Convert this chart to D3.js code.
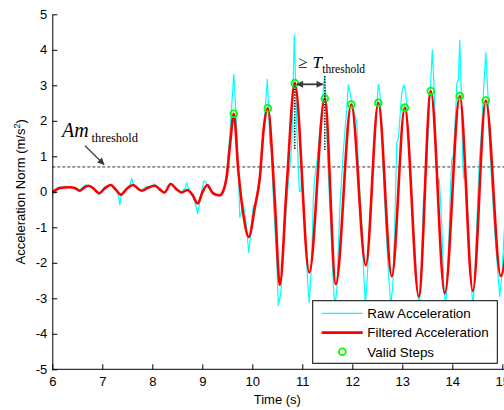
<!DOCTYPE html>
<html>
<head>
<meta charset="utf-8">
<script src="https://cdn.jsdelivr.net/npm/d3@7"></script>
<style>
  html, body { margin: 0; padding: 0; background: #fff; overflow: hidden; }
  svg { display: block; font-family: "Liberation Sans", Arial, Helvetica, sans-serif; }
</style>
</head>
<body>
<svg id="chart" width="504" height="410"></svg>
<script>
// ---- data -------------------------------------------------------------
const xTicks = [6, 7, 8, 9, 10, 11, 12, 13, 14, 15];
const yTicks = [-5, -4, -3, -2, -1, 0, 1, 2, 3, 4, 5];
const amThreshold = 0.7;

const seriesNames = ["Raw Acceleration", "Filtered Acceleration", "Valid Steps"];

// raw accelerometer norm, [time s, m/s^2]
const rawAccel = [
  [6.00,-0.16],[6.03,0.05],[6.06,-0.05],[6.10,0.10],[6.15,0.14],[6.20,0.08],[6.25,0.16],
  [6.30,0.12],[6.36,0.15],[6.42,0.10],[6.48,0.06],[6.52,0.02],[6.57,0.08],[6.62,0.14],
  [6.67,0.20],[6.72,0.14],[6.76,0.18],[6.82,0.10],[6.88,0.02],[6.93,-0.08],[6.98,0.02],
  [7.04,0.12],[7.10,0.16],[7.16,0.22],[7.22,0.10],[7.28,0.04],[7.32,-0.10],[7.35,-0.36],
  [7.38,-0.10],[7.43,0.02],[7.50,0.10],[7.55,0.20],[7.59,0.38],[7.63,0.14],[7.68,0.16],
  [7.73,0.04],[7.78,0.02],[7.83,0.10],[7.88,0.14],[7.93,0.08],[7.98,0.16],[8.04,0.22],
  [8.09,0.14],[8.14,0.04],[8.20,0.00],[8.25,-0.04],[8.30,0.10],[8.35,0.25],[8.40,0.18],
  [8.46,0.06],[8.52,0.02],[8.57,-0.03],[8.62,0.05],[8.66,0.12],[8.69,0.26],[8.73,0.05],
  [8.78,-0.06],[8.83,-0.18],[8.87,-0.40],[8.91,-0.61],[8.95,-0.30],[8.99,0.05],[9.03,0.31],
  [9.07,0.28],[9.12,0.10],[9.17,0.05],[9.22,-0.05],[9.27,-0.12],[9.31,-0.05],[9.35,-0.10],
  [9.40,0.00],[9.45,0.15],[9.49,0.60],[9.55,1.60],[9.59,2.47],[9.63,3.31],[9.67,2.28],
  [9.72,0.68],[9.75,-0.72],[9.78,-0.60],[9.82,-0.35],[9.87,-0.82],[9.93,-1.71],[9.97,-1.17],
  [10.02,-0.39],[10.07,-0.35],[10.11,-0.10],[10.15,0.24],[10.23,1.84],[10.30,3.17],
  [10.33,2.28],[10.35,1.35],[10.38,1.25],[10.43,-0.52],[10.49,-1.93],[10.52,-3.20],
  [10.57,-2.87],[10.62,-1.55],[10.69,-0.25],[10.79,1.35],[10.84,4.42],[10.89,1.80],
  [10.94,0.03],[10.97,0.00],[10.99,0.63],[11.05,-0.96],[11.12,-2.83],[11.14,-3.12],
  [11.19,-1.90],[11.22,-0.20],[11.25,0.40],[11.30,0.94],[11.39,2.35],[11.44,3.25],
  [11.47,2.70],[11.49,1.70],[11.52,0.48],[11.57,-0.93],[11.62,-2.62],[11.65,-3.20],
  [11.69,-2.80],[11.75,-0.45],[11.82,1.14],[11.89,2.35],[11.92,3.01],[11.95,2.82],
  [12.00,2.45],[12.05,2.17],[12.09,1.97],[12.12,0.75],[12.19,-0.93],[12.23,-2.34],
  [12.26,-3.20],[12.30,-2.43],[12.35,-0.75],[12.42,0.94],[12.49,2.35],[12.52,3.03],
  [12.55,2.82],[12.59,1.88],[12.62,0.56],[12.67,-0.93],[12.72,-2.25],[12.77,-3.20],
  [12.81,-2.63],[12.85,-0.90],[12.89,1.39],[12.92,1.48],[12.99,2.80],[13.03,3.01],
  [13.07,2.80],[13.12,1.67],[13.15,0.73],[13.22,-0.96],[13.29,-2.65],[13.34,-3.25],
  [13.39,-1.90],[13.42,-0.30],[13.45,0.17],[13.49,0.73],[13.54,2.33],[13.60,3.99],
  [13.64,2.80],[13.67,1.39],[13.70,0.17],[13.74,0.36],[13.79,-0.96],[13.83,-2.65],
  [13.87,-3.25],[13.92,-1.90],[13.96,-0.02],[13.99,0.92],[14.02,1.01],[14.07,2.33],
  [14.09,3.05],[14.12,3.15],[14.15,4.27],[14.18,2.80],[14.21,0.73],[14.23,0.36],
  [14.25,0.90],[14.29,0.00],[14.35,-1.90],[14.41,-3.25],[14.45,-2.46],[14.50,-0.49],
  [14.54,0.83],[14.59,1.86],[14.63,2.99],[14.67,3.92],[14.71,2.80],[14.74,1.58],
  [14.79,0.17],[14.85,-1.15],[14.92,-2.46],[14.95,-2.95],[15.00,-2.18],[15.03,-1.33],
  [15.08,-0.20]
];

// low-pass filtered norm, [time s, m/s^2]
const filteredAccel = [
  [6.00,-0.02],[6.10,0.08],[6.22,0.12],[6.35,0.13],[6.45,0.11],[6.55,0.03],[6.63,0.11],
  [6.72,0.17],[6.80,0.12],[6.94,-0.04],[7.05,0.10],[7.17,0.19],[7.27,0.06],[7.37,-0.08],
  [7.50,0.10],[7.62,0.19],[7.72,0.08],[7.79,0.03],[7.92,0.12],[8.05,0.17],[8.15,0.07],
  [8.24,-0.02],[8.37,0.22],[8.48,0.08],[8.59,-0.02],[8.70,0.05],[8.80,-0.08],[8.91,-0.33],
  [9.00,-0.02],[9.10,0.19],[9.20,-0.02],[9.27,-0.08],[9.35,-0.10],[9.42,0.03],[9.49,0.45],
  [9.56,1.40],[9.63,2.20],[9.72,0.60],[9.82,-0.63],[9.93,-1.27],[10.05,-0.44],[10.15,0.40],
  [10.23,1.80],[10.31,2.35],[10.45,-0.25],[10.55,-2.62],[10.69,0.22],[10.85,3.06],
  [11.14,-2.27],[11.45,2.63],[11.67,-2.60],[11.98,2.46],[12.27,-2.07],[12.52,2.51],
  [12.79,-2.38],[13.05,2.37],[13.33,-2.95],[13.57,2.84],[13.85,-2.86],[14.15,2.70],
  [14.41,-2.79],[14.67,2.57],[14.97,-2.37],[15.25,2.50]
];

// ---- layout ------------------------------------------------------------
const svg = d3.select("#chart");
const plotLeft = 52.3, plotRight = 502.3, plotTop = 14.3, plotBottom = 369.3;
const x = d3.scaleLinear().domain([6, 15]).range([plotLeft, plotRight]);
const y = d3.scaleLinear().domain([-5, 5]).range([plotBottom, plotTop]);
const serif = '"Liberation Serif", "Times New Roman", Times, serif';
const ink = "#3a3a3a";

svg.append("rect").attr("width", 504).attr("height", 410).attr("fill", "#fff");

const defs = svg.append("defs");
defs.append("clipPath").attr("id", "plot-clip")
  .append("rect").attr("x", plotLeft).attr("y", 0).attr("width", 504 - plotLeft).attr("height", 410);
defs.append("marker")
  .attr("id", "head").attr("markerUnits", "userSpaceOnUse")
  .attr("viewBox", "0 0 10 10").attr("refX", 9).attr("refY", 5)
  .attr("markerWidth", 8).attr("markerHeight", 7).attr("orient", "auto-start-reverse")
  .append("path").attr("d", "M0,0L10,5L0,10z").attr("fill", ink);

// threshold line
svg.append("line")
  .attr("x1", plotLeft).attr("x2", 504)
  .attr("y1", y(amThreshold)).attr("y2", y(amThreshold))
  .attr("stroke", "#333").attr("stroke-width", 1).attr("stroke-dasharray", "3,2");

// ---- series ------------------------------------------------------------
const plot = svg.append("g").attr("clip-path", "url(#plot-clip)");

plot.append("path")
  .datum(rawAccel)
  .attr("fill", "none").attr("stroke", "#00ffff").attr("stroke-width", 1.2)
  .attr("stroke-linejoin", "round")
  .attr("d", d3.line().x(d => x(d[0])).y(d => y(d[1])));

plot.append("path")
  .datum(filteredAccel)
  .attr("fill", "none").attr("stroke", "#ff0000").attr("stroke-width", 2.6)
  .attr("d", d3.line().x(d => x(d[0])).y(d => y(d[1])).curve(d3.curveMonotoneX));

// valid steps: filtered peaks above the amplitude threshold
const steps = filteredAccel.filter((d, i, a) =>
  i > 0 && i < a.length - 1 && d[0] <= 15 &&
  d[1] > amThreshold && d[1] > a[i - 1][1] && d[1] > a[i + 1][1]);

plot.selectAll("circle.step").data(steps).join("circle")
  .attr("class", "step")
  .attr("cx", d => x(d[0])).attr("cy", d => y(d[1])).attr("r", 3.4)
  .attr("fill", "none").attr("stroke", "#00ff00").attr("stroke-width", 1.8);

// ---- axes --------------------------------------------------------------
const yAxis = svg.append("g").attr("transform", `translate(${plotLeft},0)`)
  .call(d3.axisLeft(y).tickValues(yTicks).tickSizeInner(-5).tickSizeOuter(0)
    .tickPadding(5).tickFormat(d => String(d)));
const xAxis = svg.append("g").attr("transform", `translate(0,${plotBottom})`)
  .call(d3.axisBottom(x).tickValues(xTicks).tickSizeInner(-5).tickSizeOuter(0)
    .tickPadding(7).tickFormat(d => String(d)));
xAxis.select(".domain").attr("d", `M${plotLeft},0H504`);

[xAxis, yAxis].forEach(g => {
  g.attr("font-size", 13).attr("font-family", '"Liberation Sans", Arial, sans-serif');
  g.selectAll("text").attr("fill", "#000");
  g.selectAll("line, .domain").attr("stroke", "#000");
});

svg.append("text")
  .attr("x", (plotLeft + plotRight) / 2).attr("y", 404)
  .attr("text-anchor", "middle").attr("font-size", 13).text("Time (s)");

const yTitle = svg.append("text")
  .attr("transform", `translate(25,${(plotTop + plotBottom) / 2}) rotate(-90)`)
  .attr("text-anchor", "middle").attr("font-size", 13);
yTitle.append("tspan").text("Acceleration Norm (m/s");
yTitle.append("tspan").attr("font-size", 9).attr("dy", -5).text("2");
yTitle.append("tspan").attr("dy", 5).text(")");

// ---- annotations -------------------------------------------------------
svg.append("text").attr("x", 62).attr("y", 136.5)
  .attr("font-family", serif).attr("font-style", "italic").attr("font-size", 20).text("Am");
svg.append("text").attr("x", 91.5).attr("y", 141.7)
  .attr("font-family", serif).attr("font-size", 12.5).text("threshold");
svg.append("line")
  .attr("x1", 85).attr("y1", 145.7).attr("x2", 104).attr("y2", 164.5)
  .attr("stroke", ink).attr("stroke-width", 1.2).attr("marker-end", "url(#head)");

// step-interval marker between two consecutive peaks
const s0 = steps[2], s1 = steps[3];
svg.append("line")
  .attr("x1", x(s0[0])).attr("x2", x(s0[0])).attr("y1", y(s0[1])).attr("y2", 150)
  .attr("stroke", "#222").attr("stroke-width", 1.6).attr("stroke-dasharray", "1.4,1.4");
svg.append("line")
  .attr("x1", x(s1[0])).attr("x2", x(s1[0])).attr("y1", 76).attr("y2", 150)
  .attr("stroke", "#222").attr("stroke-width", 1.6).attr("stroke-dasharray", "1.4,1.4");
svg.append("line")
  .attr("x1", x(s0[0]) + 2).attr("x2", x(s1[0]) - 2).attr("y1", 84.3).attr("y2", 84.3)
  .attr("stroke", ink).attr("stroke-width", 1.8)
  .attr("marker-start", "url(#head)").attr("marker-end", "url(#head)");

svg.append("text").attr("x", 298).attr("y", 67.7)
  .attr("font-family", serif).attr("font-size", 17).text("\u2265");
svg.append("text").attr("x", 312.5).attr("y", 67.7)
  .attr("font-family", serif).attr("font-style", "italic").attr("font-size", 17).text("T");
svg.append("text").attr("x", 322.3).attr("y", 73.3)
  .attr("font-family", serif).attr("font-size", 11.5).text("threshold");

// ---- legend ------------------------------------------------------------
const lg = svg.append("g");
lg.append("rect")
  .attr("x", 312.7).attr("y", 300.7).attr("width", 184.6).attr("height", 62.6)
  .attr("fill", "#fff").attr("stroke", "#000").attr("stroke-width", 1);
const rowY = [313.3, 332.6, 351.8];
lg.append("line").attr("x1", 321.7).attr("x2", 362.7).attr("y1", rowY[0]).attr("y2", rowY[0])
  .attr("stroke", "#00ffff").attr("stroke-width", 1.2);
lg.append("line").attr("x1", 321.7).attr("x2", 362.7).attr("y1", rowY[1]).attr("y2", rowY[1])
  .attr("stroke", "#ff0000").attr("stroke-width", 2.6);
lg.append("circle").attr("cx", 342.3).attr("cy", rowY[2]).attr("r", 3.4)
  .attr("fill", "none").attr("stroke", "#00ff00").attr("stroke-width", 1.8);
lg.selectAll("text.lab").data(seriesNames).join("text")
  .attr("class", "lab")
  .attr("x", 367.3).attr("y", (d, i) => rowY[i]).attr("dy", "0.36em")
  .attr("font-size", 13.4).text(d => d);
</script>
</body>
</html>
